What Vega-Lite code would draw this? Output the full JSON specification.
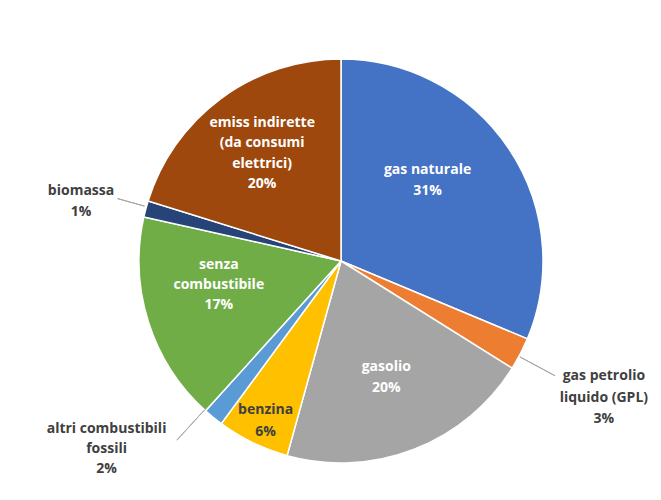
{
  "$schema": "https://vega.github.io/schema/vega-lite/v6.json",
  "autosize": "none",
  "width": 640,
  "height": 478,
  "padding": {"left": 21, "top": 22, "right": 0, "bottom": 0},
  "background": "white",
  "config": {"view": {"stroke": null}},
  "data": {
    "values": [
      {"cat": "gas naturale", "value": 31.3, "order": 1, "label": "gas naturale\n31%"},
      {"cat": "gas petrolio liquido (GPL)", "value": 2.6, "order": 2, "label": "gas petrolio\nliquido (GPL)\n3%"},
      {"cat": "gasolio", "value": 20.4, "order": 3, "label": "gasolio\n20%"},
      {"cat": "benzina", "value": 5.8, "order": 4, "label": "benzina\n6%"},
      {"cat": "altri combustibili fossili", "value": 1.6, "order": 5, "label": "altri combustibili\nfossili\n2%"},
      {"cat": "senza combustibile", "value": 16.8, "order": 6, "label": "senza\ncombustibile\n17%"},
      {"cat": "biomassa", "value": 1.3, "order": 7, "label": "biomassa\n1%"},
      {"cat": "emiss indirette (da consumi elettrici)", "value": 20.2, "order": 8, "label": "emiss indirette\n(da consumi\nelettrici)\n20%"}
    ]
  },
  "layer": [
    {
      "mark": {"type": "arc", "radius": 202, "stroke": "white", "strokeWidth": 1.5},
      "encoding": {
        "theta": {"field": "value", "type": "quantitative", "stack": true},
        "order": {"field": "order", "type": "quantitative"},
        "color": {
          "field": "cat", "type": "nominal", "legend": null,
          "scale": {
            "domain": ["gas naturale", "gas petrolio liquido (GPL)", "gasolio", "benzina", "altri combustibili fossili", "senza combustibile", "biomassa", "emiss indirette (da consumi elettrici)"],
            "range": ["#4472C4", "#ED7D31", "#A5A5A5", "#FFC000", "#5B9BD5", "#70AD47", "#264478", "#9E480E"]
          }
        }
      }
    },
    {
      "transform": [
        {"stack": "value", "groupby": [], "sort": [{"field": "order"}], "as": ["s0", "s1"]},
        {"filter": "datum.cat == 'gas petrolio liquido (GPL)'"}
      ],
      "mark": {"type": "arc", "radius": 243, "radius2": 203, "thetaOffset": 0.0963, "theta2Offset": 0.0963, "fillOpacity": 0, "stroke": "#A6A6A6", "strokeWidth": 1},
      "encoding": {
        "theta": {"field": "s0", "type": "quantitative", "stack": null},
        "theta2": {"field": "s0"}
      }
    },
    {
      "transform": [
        {"stack": "value", "groupby": [], "sort": [{"field": "order"}], "as": ["s0", "s1"]},
        {"filter": "datum.cat == 'altri combustibili fossili'"}
      ],
      "mark": {"type": "arc", "radius": 243, "radius2": 202, "thetaOffset": 0.1072, "theta2Offset": 0.1072, "fillOpacity": 0, "stroke": "#A6A6A6", "strokeWidth": 1},
      "encoding": {
        "theta": {"field": "s0", "type": "quantitative", "stack": null},
        "theta2": {"field": "s0"}
      }
    },
    {
      "transform": [
        {"stack": "value", "groupby": [], "sort": [{"field": "order"}], "as": ["s0", "s1"]},
        {"filter": "datum.cat == 'biomassa'"}
      ],
      "mark": {"type": "arc", "radius": 232, "radius2": 204, "thetaOffset": 0.0524, "theta2Offset": 0.0524, "fillOpacity": 0, "stroke": "#A6A6A6", "strokeWidth": 1},
      "encoding": {
        "theta": {"field": "s0", "type": "quantitative", "stack": null},
        "theta2": {"field": "s0"}
      }
    },
    {
      "encoding": {
        "theta": {"field": "value", "type": "quantitative", "stack": true},
        "order": {"field": "order", "type": "quantitative"}
      },
      "layer": [
        {
          "mark": {"type": "text", "radius": 116, "dx": -10, "dy": -26.5, "color": "white", "font": "Open Sans", "fontSize": 14, "fontWeight": "bold", "lineBreak": "\n", "lineHeight": 21},
          "encoding": {"text": {"condition": {"test": "datum.cat == 'gas naturale'", "field": "label"}, "value": ""}}
        },
        {
          "mark": {"type": "text", "radius": 125, "dy": -10.5, "color": "white", "font": "Open Sans", "fontSize": 14, "fontWeight": "bold", "lineBreak": "\n", "lineHeight": 21},
          "encoding": {"text": {"condition": {"test": "datum.cat == 'gasolio'", "field": "label"}, "value": ""}}
        },
        {
          "mark": {"type": "text", "radius": 177, "dx": 2, "dy": -10, "color": "#404040", "font": "Open Sans", "fontSize": 14, "fontWeight": "bold", "lineBreak": "\n", "lineHeight": 22},
          "encoding": {"text": {"condition": {"test": "datum.cat == 'benzina'", "field": "label"}, "value": ""}}
        },
        {
          "mark": {"type": "text", "radius": 124, "dx": -4, "dy": -34, "color": "white", "font": "Open Sans", "fontSize": 14, "fontWeight": "bold", "lineBreak": "\n", "lineHeight": 20},
          "encoding": {"text": {"condition": {"test": "datum.cat == 'senza combustibile'", "field": "label"}, "value": ""}}
        },
        {
          "mark": {"type": "text", "radius": 133, "dy": -31, "color": "white", "font": "Open Sans", "fontSize": 14, "fontWeight": "bold", "lineBreak": "\n", "lineHeight": 20.5},
          "encoding": {"text": {"condition": {"test": "datum.cat == 'emiss indirette (da consumi elettrici)'", "field": "label"}, "value": ""}}
        },
        {
          "mark": {"type": "text", "radius": 296, "dy": -21, "color": "#404040", "font": "Open Sans", "fontSize": 14, "fontWeight": "bold", "lineBreak": "\n", "lineHeight": 21.5},
          "encoding": {"text": {"condition": {"test": "datum.cat == 'gas petrolio liquido (GPL)'", "field": "label"}, "value": ""}}
        },
        {
          "mark": {"type": "text", "radius": 260, "dx": -70, "dy": -33, "color": "#404040", "font": "Open Sans", "fontSize": 14, "fontWeight": "bold", "lineBreak": "\n", "lineHeight": 20},
          "encoding": {"text": {"condition": {"test": "datum.cat == 'altri combustibili fossili'", "field": "label"}, "value": ""}}
        },
        {
          "mark": {"type": "text", "radius": 267, "dx": -2, "dy": -1, "color": "#404040", "font": "Open Sans", "fontSize": 14, "fontWeight": "bold", "lineBreak": "\n", "lineHeight": 21},
          "encoding": {"text": {"condition": {"test": "datum.cat == 'biomassa'", "field": "label"}, "value": ""}}
        }
      ]
    }
  ]
}
